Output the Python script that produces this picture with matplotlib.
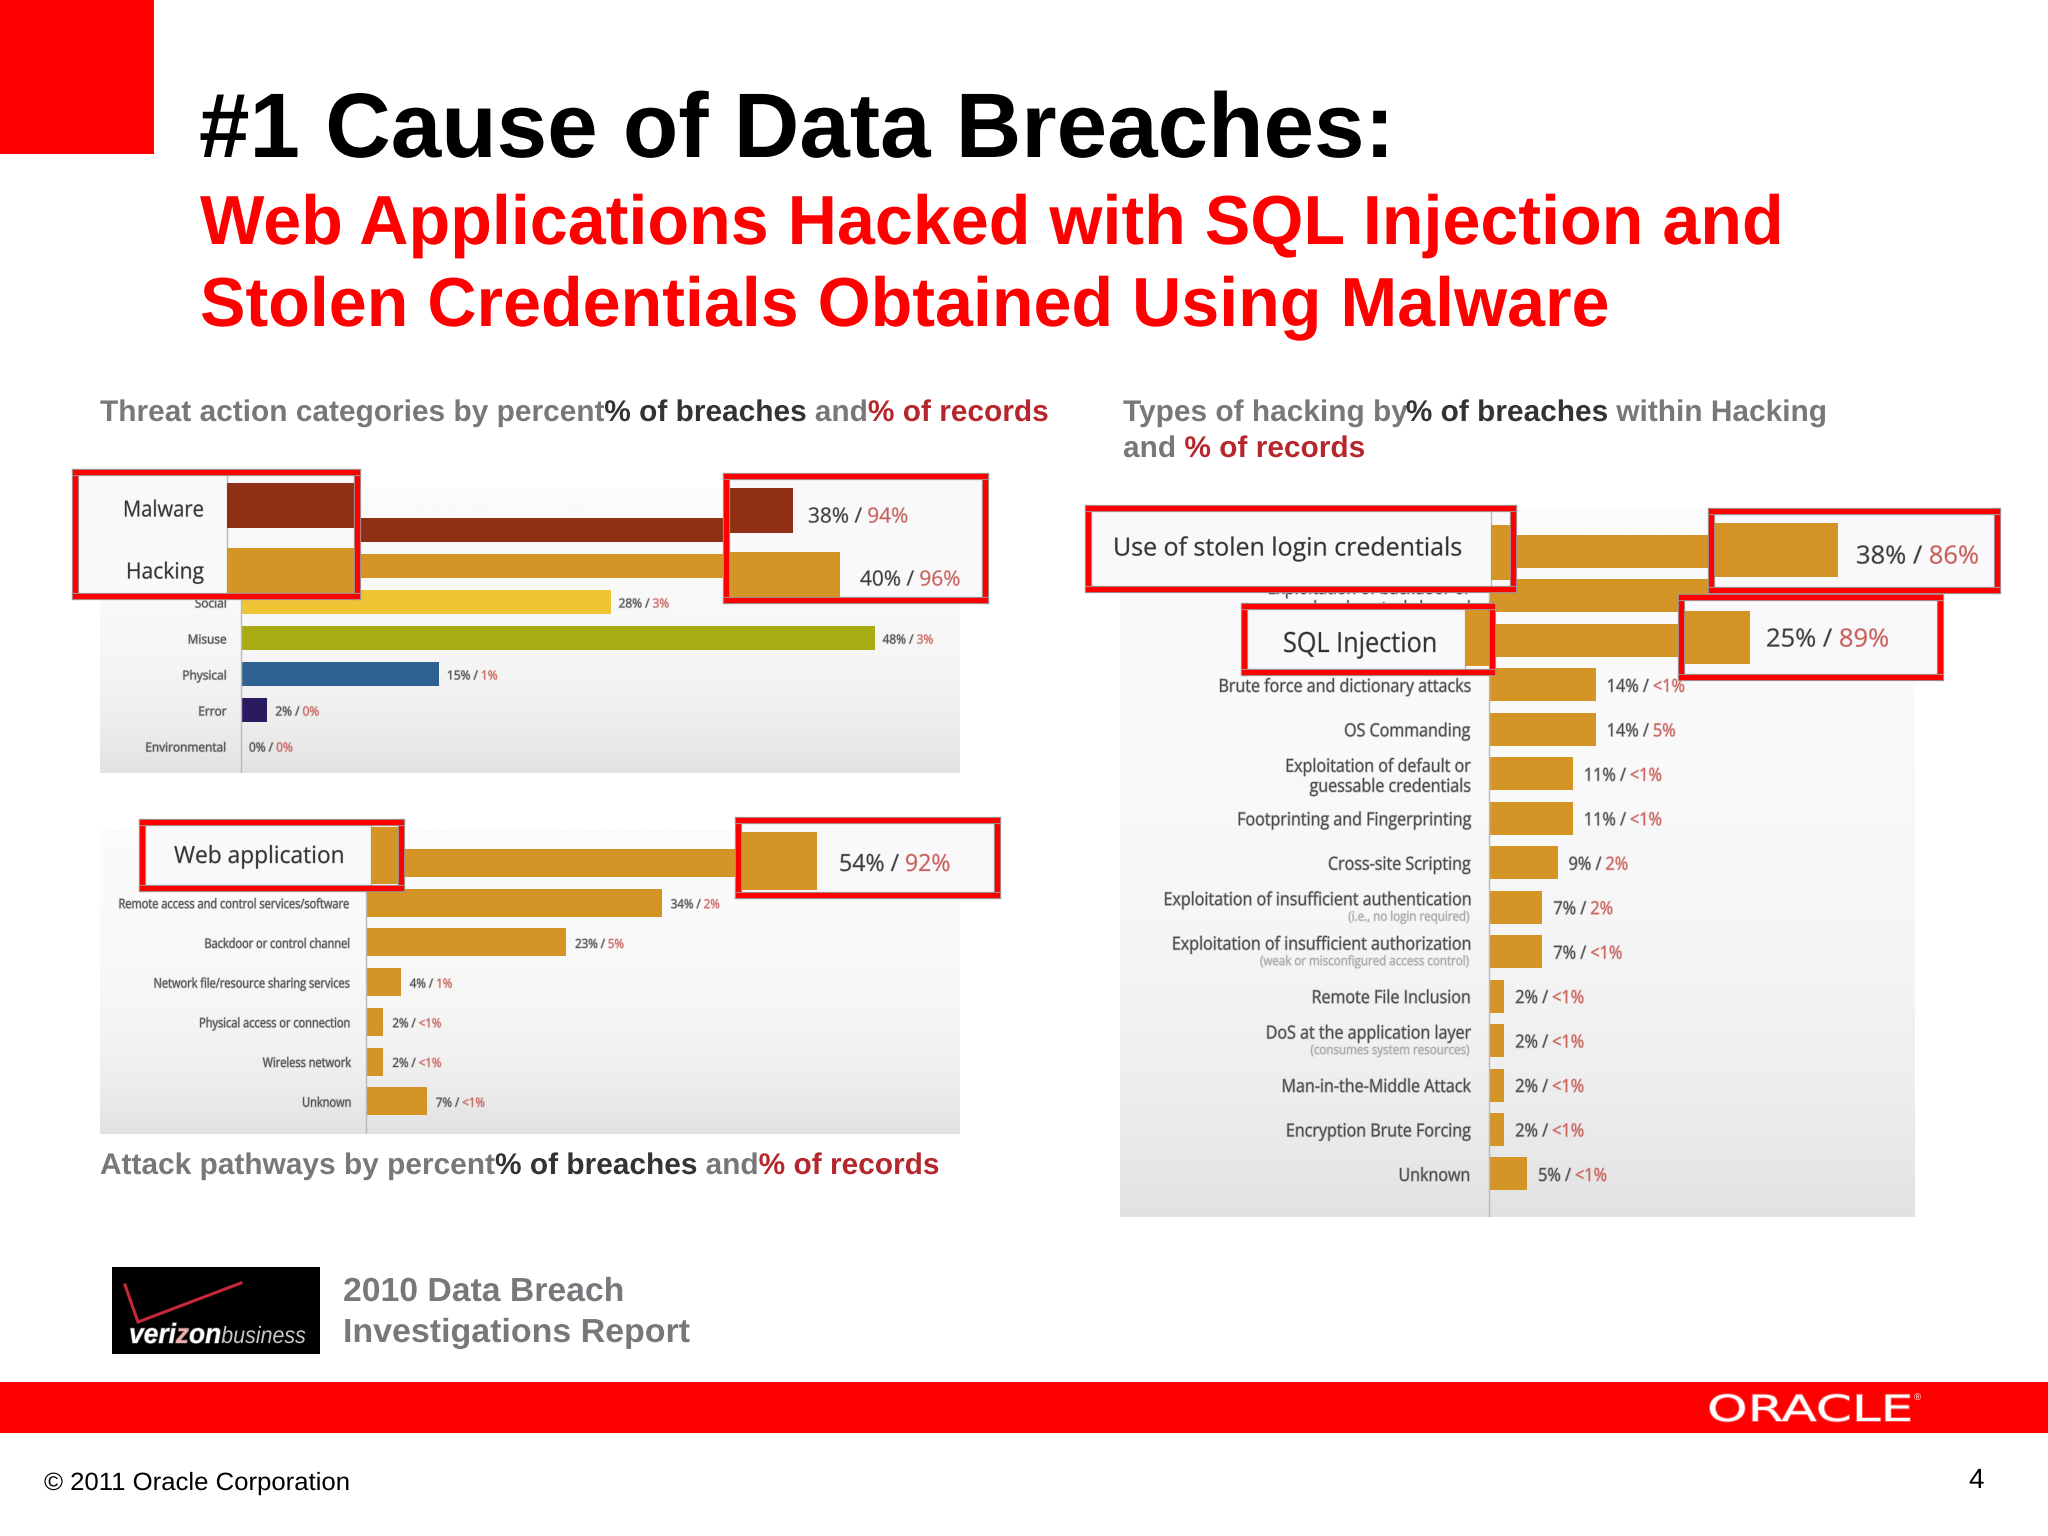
from __future__ import annotations

import matplotlib

matplotlib.use("Agg")
import matplotlib.patheffects as pe
import matplotlib.pyplot as plt
import numpy as np
from matplotlib.colors import LinearSegmentedColormap
from matplotlib.patches import Rectangle
from matplotlib.transforms import Affine2D

W, H = 2048, 1536

# threat action categories
THREAT_LABELS = ["Malware", "Hacking", "Social", "Misuse", "Physical", "Error", "Environmental"]
THREAT_BREACHES = [38, 40, 28, 48, 15, 2, 0]
THREAT_RECORDS = ["94%", "96%", "3%", "3%", "1%", "0%", "0%"]
THREAT_COLORS = ["#8f3014", "#d49526", "#eec434", "#a8ab12", "#2f6290", "#2a1a5e", "#999999"]

# attack pathways
PATH_LABELS = [
    "Web application",
    "Remote access and control services/software",
    "Backdoor or control channel",
    "Network file/resource sharing services",
    "Physical access or connection",
    "Wireless network",
    "Unknown",
]
PATH_BREACHES = [54, 34, 23, 4, 2, 2, 7]
PATH_RECORDS = ["92%", "2%", "5%", "1%", "<1%", "<1%", "<1%"]

# types of hacking
HACK_LABELS = [
    "Use of stolen login credentials",
    "Exploitation of backdoor or\ncommand and control channel",
    "SQL Injection",
    "Brute force and dictionary attacks",
    "OS Commanding",
    "Exploitation of default or\nguessable credentials",
    "Footprinting and Fingerprinting",
    "Cross-site Scripting",
    "Exploitation of insufficient authentication",
    "Exploitation of insufficient authorization",
    "Remote File Inclusion",
    "DoS at the application layer",
    "Man-in-the-Middle Attack",
    "Encryption Brute Forcing",
    "Unknown",
]
HACK_NOTES = {
    8: "(i.e., no login required)",
    9: "(weak or misconfigured access control)",
    11: "(consumes system resources)",
}
HACK_BREACHES = [38, 29, 25, 14, 14, 11, 11, 9, 7, 7, 2, 2, 2, 2, 5]
HACK_RECORDS = ["86%", "5%", "89%", "<1%", "5%", "<1%", "<1%", "2%", "2%", "<1%", "<1%", "<1%", "<1%", "<1%", "<1%"]

RED = "#ff0000"
GRAY = "#77787b"
DARK = "#333333"
RECORD_RED = "#b5272d"
AMBER = "#d49526"
LABEL = "#4a4a4a"
SOFT_RED = "#c8605a"
SANS = "Liberation Sans"
SMALL = "Open Sans"

PANEL_CMAP = LinearSegmentedColormap.from_list("panel", ["#fbfbfc", "#f6f6f7", "#eeeeef", "#e2e2e3"])


class Squeeze(pe.AbstractPathEffect):
    """Scale glyphs sideways and optionally smear them a bit, the source is a blurry screenshot."""

    def __init__(self, sx=1.0, soft=0.0, color="k"):
        super().__init__()
        self.sx, self.soft, self.color = sx, soft, color

    def draw_path(self, renderer, gc, tpath, affine, rgbFace=None):
        tr = Affine2D().scale(self.sx, 1) + affine
        if self.soft:
            gc0 = renderer.new_gc()
            gc0.copy_properties(gc)
            gc0.set_foreground(self.color)
            gc0.set_linewidth(self.soft)
            gc0.set_alpha(0.3)
            renderer.draw_path(gc0, tpath, tr, None)
            gc0.restore()
        renderer.draw_path(gc, tpath, tr, rgbFace)


fig = plt.figure(figsize=(W / 100, H / 100), dpi=100, facecolor="white")
renderer = fig.canvas.get_renderer()

# page sits behind the charts, mid keeps chart labels under the callouts, top is above everything
page = fig.add_axes([0, 0, 1, 1], zorder=0)
mid = fig.add_axes([0, 0, 1, 1], zorder=3)
top = fig.add_axes([0, 0, 1, 1], zorder=10)
for a in (page, mid, top):
    a.set_xlim(0, W)
    a.set_ylim(H, 0)
    a.axis("off")
    a.patch.set_alpha(0)


def text_width(s, **kw):
    probe = top.text(0, 0, s + ".", **kw)
    dot = top.text(0, 0, ".", **kw)
    width = probe.get_window_extent(renderer).width - dot.get_window_extent(renderer).width
    probe.remove()
    dot.remove()
    return width


def put(x, y, s, size, color="k", weight="normal", ha="left", va="baseline",
        family=SANS, style="normal", sx=1.0, soft=0.0, width=None, ax=None):
    """Draw text at page pixels, return the advance in pixels."""
    kw = dict(fontsize=size, fontweight=weight, family=family, fontstyle=style)
    natural = text_width(s, **kw)
    if width is not None:
        sx = width / natural
    advance = natural * sx
    if ha == "right":
        x -= advance
    elif ha == "center":
        x -= advance / 2
    (ax or top).text(x, y, s, color=color, ha="left", va=va, clip_on=False,
                     path_effects=[Squeeze(sx, soft, color)], **kw)
    return advance


def put_runs(x, y, runs, size, **kw):
    for s, color in runs:
        x += put(x, y, s, size, color=color, **kw)
    return x


def bar_axes(box, x0, ppp, y0, step, zorder):
    """Axes over a pixel box where x is percent and y is the row number."""
    left, ytop, right, ybottom = box
    ax = fig.add_axes(
        [left / W, 1 - ybottom / H, (right - left) / W, (ybottom - ytop) / H], zorder=zorder
    )
    ax.set_xlim((left - x0) / ppp, (right - x0) / ppp)
    ax.set_ylim((ybottom - y0) / step, (ytop - y0) / step)
    ax.set_xticks([])
    ax.set_yticks([])
    return ax


def row_to_page(ax, value, row):
    px, py = ax.transData.transform((value, row))
    return px, H - py


def chart(box, x0, ppp, y0, step, height, labels, breaches, records, colors, label_x, size, sx, gap,
          tag_size, tag_sx, no_label=(), no_tag=(), notes=None):
    ax = bar_axes(box, x0, ppp, y0, step, 1)
    for spine in ax.spines.values():
        spine.set_visible(False)
    xlim, ylim = ax.get_xlim(), ax.get_ylim()
    ax.imshow(np.linspace(0, 1, 256).reshape(-1, 1) ** 2, extent=(*xlim, *ylim), aspect="auto",
              cmap=PANEL_CMAP, zorder=0, origin="upper")
    ax.set_xlim(xlim)
    ax.set_ylim(ylim)
    rows = np.arange(len(breaches))
    ax.barh(rows, breaches, height=height / step, color=colors, zorder=2)
    ax.axvline(0, color="#b9b9bb", lw=1, zorder=3)
    notes = notes or {}
    for row, (label, value, rec) in enumerate(zip(labels, breaches, records)):
        px, py = row_to_page(ax, value, row)
        if row not in no_tag:
            put_runs(px + gap, py + 2, [(f"{value}% / ", LABEL), (rec, SOFT_RED)], tag_size,
                     family=SMALL, sx=tag_sx, soft=1.0, va="center", ax=mid)
        if row in no_label:
            continue
        _, ly = row_to_page(ax, 0, row)
        ly += 2
        style = dict(color=LABEL, ha="right", va="center", family=SMALL, soft=1.0, ax=mid)
        lines = label.split("\n")
        if len(lines) == 2:
            put(label_x, ly - 9, lines[0], size, sx=sx, **style)
            put(label_x, ly + 11, lines[1], size, sx=sx, **style)
        elif row in notes:
            put(label_x, ly - 9, label, size, sx=sx, **style)
            style["color"] = "#a6a6aa"
            put(label_x, ly + 8, notes[row], size * 0.72, sx=sx, **style)
        else:
            put(label_x, ly, label, size, sx=sx, **style)
    return ax


def callout(box, x0, ppp, y0, step, height, values, colors):
    ax = bar_axes(box, x0, ppp, y0, step, 5)
    ax.set_facecolor("#f9f9fb")
    ax.barh(np.arange(len(values)), values, height=height / step, color=colors, zorder=2)
    ax.axvline(0, color="#b9b9bb", lw=1, zorder=1)
    for spine in ax.spines.values():
        spine.set_color(RED)
        spine.set_linewidth(3.8)
        spine.set_path_effects([pe.withStroke(linewidth=5.2, foreground="#9c9c9c")])
    return ax


def callout_label(x, y, label, size, width):
    put(x, y, label, size, color="#333333", va="center", family=SMALL, ha="right", soft=0.6, width=width)


def callout_tag(x, y, breach, rec, size, sx):
    put_runs(x, y, [(f"{breach}% / ", "#3d3d3d"), (rec, SOFT_RED)], size, va="center", family=SMALL, sx=sx, soft=0.6)


# slide chrome
page.add_patch(Rectangle((0, 0), 154, 154, color=RED, lw=0))
page.add_patch(Rectangle((0, 1382), W, 51, color=RED, lw=0))
put(199, 157, "#1 Cause of Data Breaches:", 66, weight="bold", width=1195, ax=page)
put(200, 244, "Web Applications Hacked with SQL Injection and", 50, color=RED, weight="bold", width=1584, ax=page)
put(200, 326, "Stolen Credentials Obtained Using Malware", 50, color=RED, weight="bold", width=1410, ax=page)

put_runs(100, 421, [("Threat action categories by percent", GRAY), ("% of breaches", DARK), (" and", GRAY),
                    ("% of records", RECORD_RED)], 21.5, weight="bold")
put_runs(1123, 421, [("Types of hacking by", GRAY), ("% of breaches", DARK), (" within Hacking", GRAY)], 21.5, weight="bold")
put_runs(1123, 457, [("and ", GRAY), ("% of records", RECORD_RED)], 21.5, weight="bold")
put_runs(100, 1174, [("Attack pathways by percent", GRAY), ("% of breaches", DARK), (" and", GRAY),
                     ("% of records", RECORD_RED)], 21.5, weight="bold")

# charts
threat_ax = chart((100, 488, 960, 773), 241, 13.2, 530, 36, 24.5, THREAT_LABELS, THREAT_BREACHES, THREAT_RECORDS,
                  THREAT_COLORS, 227, 9, 0.95, 8, 9, 0.95, no_label=(0, 1), no_tag=(0, 1))
path_ax = chart((100, 830, 960, 1134), 366, 8.7, 863, 39.7, 28, PATH_LABELS, PATH_BREACHES, PATH_RECORDS,
                AMBER, 352, 9.5, 0.835, 9, 9, 0.92, no_label=(0,), no_tag=(0,))
hack_ax = chart((1120, 509, 1915, 1217), 1489, 7.62, 551.5, 44.46, 33, HACK_LABELS, HACK_BREACHES, HACK_RECORDS,
                AMBER, 1470, 13, 0.89, 11, 13, 0.9, no_label=(0, 2), no_tag=(0, 1, 2), notes=HACK_NOTES)

# magnified callouts from the slide author
callout((75, 472, 357, 596), 227, 23.5, 505.5, 65, 45, THREAT_BREACHES[:2], THREAT_COLORS[:2])
callout((726, 476, 985, 600), -100, 23.5, 510, 64, 45, THREAT_BREACHES[:2], THREAT_COLORS[:2])
callout((142, 822, 401, 888), 370.5, 17.4, 855, 57, 57, PATH_BREACHES[:1], AMBER)
callout((738, 820, 997, 895), -123, 17.4, 861, 57, 58, PATH_BREACHES[:1], AMBER)
callout((1088, 508, 1513, 589), 1491, 13.3, 552, 54, 55, HACK_BREACHES[:1], AMBER)
callout((1711, 511, 1997, 590), 1333, 13.3, 550, 54, 54, HACK_BREACHES[:1], AMBER)
callout((1244, 606, 1492, 672), 1465, 13.3, 638, 54, 56, HACK_BREACHES[2:3], AMBER)
callout((1681, 597, 1940, 677), 1417.5, 13.3, 638, 54, 53, HACK_BREACHES[2:3], AMBER)

callout_label(204, 511, THREAT_LABELS[0], 16, 81)
callout_label(204, 573, THREAT_LABELS[1], 16, 78)
callout_tag(808, 517, THREAT_BREACHES[0], THREAT_RECORDS[0], 15, 1.0)
callout_tag(860, 580, THREAT_BREACHES[1], THREAT_RECORDS[1], 15, 1.0)
callout_label(345, 857, PATH_LABELS[0], 17, 171)
callout_tag(839, 865, PATH_BREACHES[0], PATH_RECORDS[0], 17, 0.98)
callout_label(1462, 549, HACK_LABELS[0], 18, 349)
callout_tag(1856, 557, HACK_BREACHES[0], HACK_RECORDS[0], 18, 1.02)
callout_label(1437, 645, HACK_LABELS[2], 20, 154)
callout_tag(1766, 640, HACK_BREACHES[2], HACK_RECORDS[2], 18, 1.02)

# verizon logo and source
page.add_patch(Rectangle((112, 1267), 208, 87, color="black", lw=0))
page.plot([125, 138, 241], [1285, 1322, 1283], color="#c8283c", lw=2.2, solid_joinstyle="miter")
vx = put_runs(129, 1343, [("veri", "white"), ("z", "#e8b0b0"), ("on", "white")], 20, weight="bold", style="italic",
              sx=0.95, soft=1.0, ax=page)
put(vx, 1343, "business", 17, color="#c8c8c8", style="italic", width=306 - vx, ax=page)
put(343, 1301, "2010 Data Breach", 24, color=GRAY, weight="bold", width=282, ax=page)
put(343, 1342, "Investigations Report", 24, color=GRAY, weight="bold", width=348, ax=page)

# footer
put(1707, 1421, "ORACLE", 26, color="white", family="DejaVu Sans", soft=1.4, width=206, ax=top)
put(1914, 1400, "®", 7, color="white", ax=top)
put(44, 1490, "© 2011 Oracle Corporation", 18, width=306)
put(1969, 1488, "4", 20)

fig.savefig("out.png", dpi=100, facecolor="white")
